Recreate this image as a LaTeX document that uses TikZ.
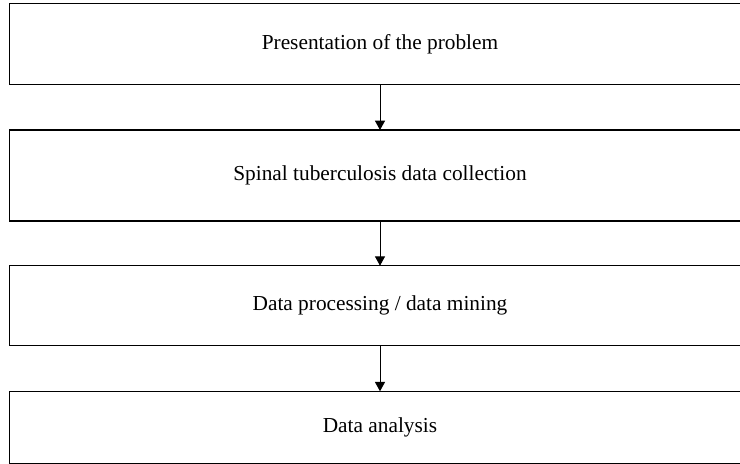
\documentclass[tikz,border=0pt]{standalone}
\usepackage{fontspec}
\setmainfont{Liberation Serif}
\usetikzlibrary{arrows.meta}
\usetikzlibrary{positioning}

\tikzset{stage/.style={draw, line width=0.8pt, inner sep=0pt, outer sep=0pt,
    minimum width=555.75pt, font=\fontsize{16}{18}\selectfont}}

\begin{document}
\begin{tikzpicture}[x=0.75pt,y=-0.75pt,line width=0.75pt,>={Triangle[length=7pt,width=7.5pt]}]
    \useasboundingbox (0,0) rectangle (740,464);
    \node[stage, minimum height=60.45pt] (problem) at (380,44) {Presentation of the problem};
    \node[stage, minimum height=68.25pt] (collection) at (380,175.5) {Spinal tuberculosis data collection};
    \node[stage, minimum height=60pt] (mining) at (380,305.7) {Data processing / data mining};
    \node[stage, minimum height=54pt] (analysis) at (380,427.3) {Data analysis};

    \draw[->] (problem) -- (collection);
    \draw[->] (collection) -- (mining);
    \draw[->] (mining) -- (analysis);
  \end{tikzpicture}
\end{document}
